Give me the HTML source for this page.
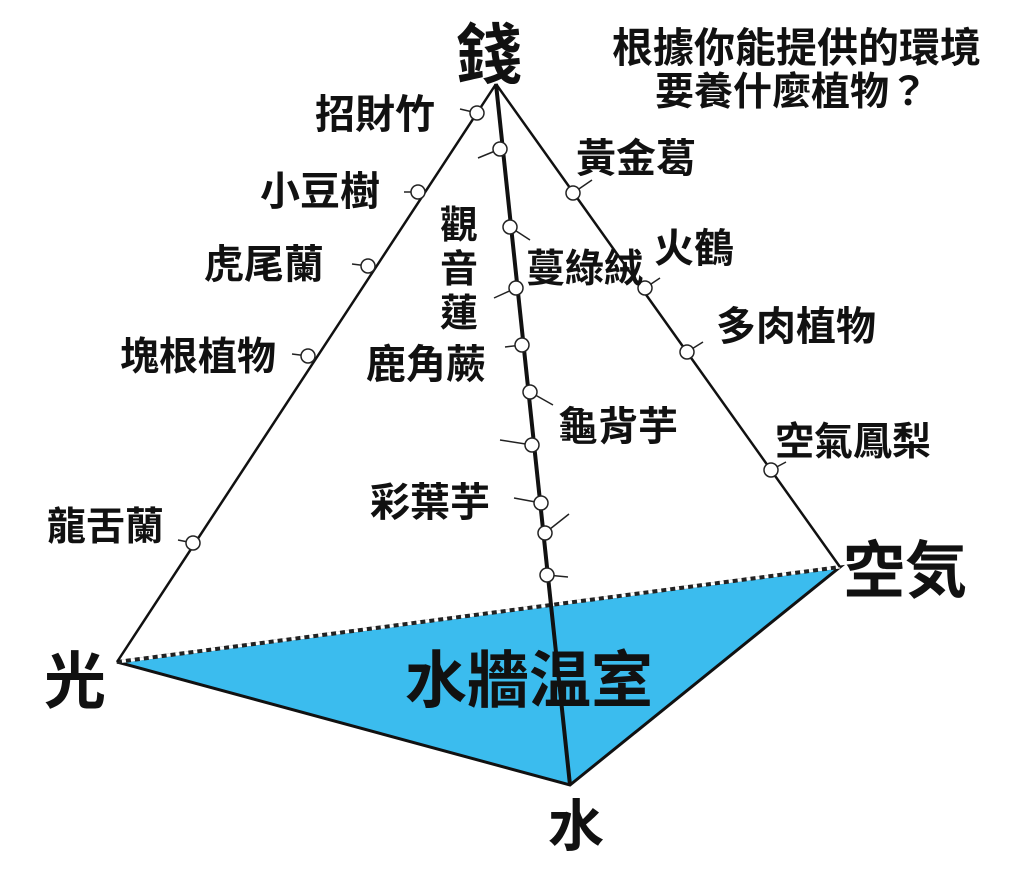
<!DOCTYPE html>
<html><head><meta charset="utf-8"><style>
html,body{margin:0;padding:0;background:#fff;}
svg text{font-family:"Liberation Sans","Noto Sans CJK TC","Noto Sans CJK SC",sans-serif;font-weight:bold;fill:#111;}
</style></head><body>
<svg width="1024" height="889" viewBox="0 0 1024 889" xmlns="http://www.w3.org/2000/svg">
<rect width="1024" height="889" fill="#fff"/>
<polygon points="117,662 840,567 570,785" fill="#3bbcee" stroke="#111" stroke-width="3"/>
<line x1="117" y1="662" x2="840" y2="567" stroke="#fff" stroke-width="3"/>
<line x1="117" y1="662" x2="840" y2="567" stroke="#222" stroke-width="4" stroke-dasharray="5,4"/>
<line x1="496" y1="84" x2="117" y2="662" stroke="#111" stroke-width="2.5"/>
<line x1="496" y1="84" x2="840" y2="567" stroke="#111" stroke-width="2.5"/>
<line x1="496" y1="84" x2="570" y2="785" stroke="#111" stroke-width="4"/>
<g stroke="#222" stroke-width="1.5" fill="#fff">
<line x1="477" y1="113" x2="460" y2="109"/><circle cx="477" cy="113" r="7"/>
<line x1="418" y1="192" x2="404" y2="192"/><circle cx="418" cy="192" r="7"/>
<line x1="368" y1="266" x2="352" y2="264"/><circle cx="368" cy="266" r="7"/>
<line x1="308" y1="356" x2="292" y2="354"/><circle cx="308" cy="356" r="7"/>
<line x1="193" y1="543" x2="178" y2="540"/><circle cx="193" cy="543" r="7"/>
<line x1="500" y1="149" x2="478" y2="158"/><circle cx="500" cy="149" r="7"/>
<line x1="510" y1="227" x2="530" y2="240"/><circle cx="510" cy="227" r="7"/>
<line x1="516" y1="288" x2="494" y2="298"/><circle cx="516" cy="288" r="7"/>
<line x1="522" y1="345" x2="505" y2="347"/><circle cx="522" cy="345" r="7"/>
<line x1="530" y1="392" x2="553" y2="405"/><circle cx="530" cy="392" r="7"/>
<line x1="532" y1="445" x2="500" y2="440"/><circle cx="532" cy="445" r="7"/>
<line x1="541" y1="503" x2="514" y2="498"/><circle cx="541" cy="503" r="7"/>
<line x1="545" y1="533" x2="569" y2="514"/><circle cx="545" cy="533" r="7"/>
<line x1="547" y1="575" x2="568" y2="577"/><circle cx="547" cy="575" r="7"/>
<line x1="573" y1="193" x2="592" y2="180"/><circle cx="573" cy="193" r="7"/>
<line x1="645" y1="288" x2="660" y2="278"/><circle cx="645" cy="288" r="7"/>
<line x1="687" y1="352" x2="703" y2="342"/><circle cx="687" cy="352" r="7"/>
<line x1="771" y1="470" x2="786" y2="462"/><circle cx="771" cy="470" r="7"/>
</g>
<text x="456" y="78" font-size="66">錢</text>
<text x="612" y="62" font-size="41">根據你能提供的環境</text>
<text x="655" y="105" font-size="39">要養什麼植物？</text>
<text x="315" y="128" font-size="40">招財竹</text>
<text x="260" y="205" font-size="40">小豆樹</text>
<text x="204" y="278" font-size="40">虎尾蘭</text>
<text x="120" y="370" font-size="39">塊根植物</text>
<text x="47" y="540" font-size="39">龍舌蘭</text>
<text x="576" y="172" font-size="40">黃金葛</text>
<text x="654" y="262" font-size="40">火鶴</text>
<text x="716" y="340" font-size="40">多肉植物</text>
<text x="775" y="455" font-size="39">空氣鳳梨</text>
<text x="440" y="238" font-size="38">觀</text>
<text x="440" y="282" font-size="38">音</text>
<text x="440" y="326" font-size="38">蓮</text>
<text x="526" y="282" font-size="39">蔓綠絨</text>
<text x="366" y="378" font-size="40">鹿角蕨</text>
<text x="558" y="440" font-size="40">龜背芋</text>
<text x="370" y="516" font-size="40">彩葉芋</text>
<text x="843" y="592" font-size="62">空気</text>
<text x="44" y="703" font-size="62">光</text>
<text x="405" y="702" font-size="62">水牆温室</text>
<text x="548" y="846" font-size="56">水</text>
</svg>
</body></html>
